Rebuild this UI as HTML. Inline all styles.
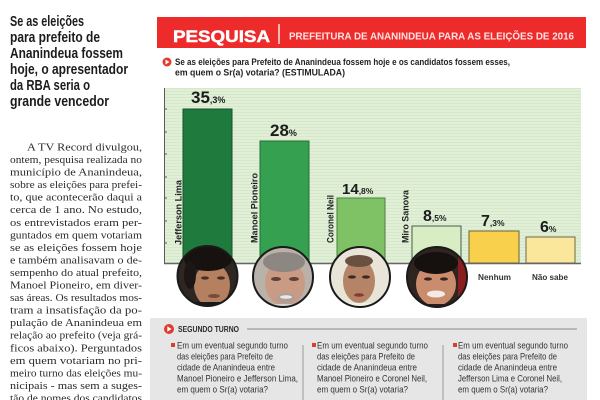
<!DOCTYPE html>
<html><head><meta charset="utf-8"><style>
html,body{margin:0;padding:0;background:#fff;}
svg{display:block;}
</style></head><body>
<svg width="600" height="400" viewBox="0 0 600 400" xmlns="http://www.w3.org/2000/svg">
<defs>
<pattern id="stripes" width="8" height="3" patternUnits="userSpaceOnUse">
<rect width="8" height="3" fill="#e0efd6"/>
<line x1="0" y1="1.5" x2="8" y2="1.5" stroke="#d2e5c8" stroke-width="0.7"/>
</pattern>
<clipPath id="c1"><circle cx="207.5" cy="276" r="30"/></clipPath>
<clipPath id="c2"><circle cx="283" cy="277" r="30"/></clipPath>
<clipPath id="c3"><circle cx="360" cy="277" r="30"/></clipPath>
<clipPath id="c4"><circle cx="437" cy="277" r="30"/></clipPath>
</defs>
<rect width="600" height="400" fill="#fff"/>

<!-- left column headline -->
<g font-family="Liberation Sans, sans-serif" font-weight="bold" font-size="15" fill="#1c1c1c" lengthAdjust="spacingAndGlyphs">
<text x="10" y="26" textLength="74" lengthAdjust="spacingAndGlyphs">Se as eleições</text>
<text x="10" y="42" textLength="90" lengthAdjust="spacingAndGlyphs">para prefeito de</text>
<text x="10" y="58" textLength="113" lengthAdjust="spacingAndGlyphs">Ananindeua fossem</text>
<text x="10" y="74" textLength="118" lengthAdjust="spacingAndGlyphs">hoje, o apresentador</text>
<text x="10" y="90" textLength="80" lengthAdjust="spacingAndGlyphs">da RBA seria o</text>
<text x="10" y="106" textLength="99" lengthAdjust="spacingAndGlyphs">grande vencedor</text>
</g>

<!-- body text -->
<g font-family="Liberation Serif, serif" font-size="11" fill="#2a2a2a">
<text x="27" y="150.5" textLength="115" lengthAdjust="spacingAndGlyphs">A TV Record divulgou,</text>
<text x="10" y="163" textLength="132" lengthAdjust="spacingAndGlyphs">ontem, pesquisa realizada no</text>
<text x="10" y="175.6" textLength="132" lengthAdjust="spacingAndGlyphs">município de Ananindeua,</text>
<text x="10" y="188.1" textLength="132" lengthAdjust="spacingAndGlyphs">sobre as eleições para prefei-</text>
<text x="10" y="200.7" textLength="132" lengthAdjust="spacingAndGlyphs">to, que acontecerão daqui a</text>
<text x="10" y="213.2" textLength="132" lengthAdjust="spacingAndGlyphs">cerca de 1 ano. No estudo,</text>
<text x="10" y="225.8" textLength="132" lengthAdjust="spacingAndGlyphs">os entrevistados eram per-</text>
<text x="10" y="238.3" textLength="132" lengthAdjust="spacingAndGlyphs">guntados em quem votariam</text>
<text x="10" y="250.9" textLength="132" lengthAdjust="spacingAndGlyphs">se as eleições fossem hoje</text>
<text x="10" y="263.4" textLength="132" lengthAdjust="spacingAndGlyphs">e também analisavam o de-</text>
<text x="10" y="276" textLength="132" lengthAdjust="spacingAndGlyphs">sempenho do atual prefeito,</text>
<text x="10" y="288.5" textLength="132" lengthAdjust="spacingAndGlyphs">Manoel Pioneiro, em diver-</text>
<text x="10" y="301.1" textLength="132" lengthAdjust="spacingAndGlyphs">sas áreas. Os resultados mos-</text>
<text x="10" y="313.6" textLength="132" lengthAdjust="spacingAndGlyphs">tram a insatisfação da po-</text>
<text x="10" y="326.2" textLength="132" lengthAdjust="spacingAndGlyphs">pulação de Ananindeua em</text>
<text x="10" y="338.7" textLength="132" lengthAdjust="spacingAndGlyphs">relação ao prefeito (veja grá-</text>
<text x="10" y="351.3" textLength="132" lengthAdjust="spacingAndGlyphs">ficos abaixo). Perguntados</text>
<text x="10" y="363.8" textLength="132" lengthAdjust="spacingAndGlyphs">em quem votariam no pri-</text>
<text x="10" y="376.4" textLength="132" lengthAdjust="spacingAndGlyphs">meiro turno das eleições mu-</text>
<text x="10" y="388.9" textLength="132" lengthAdjust="spacingAndGlyphs">nicipais - mas sem a suges-</text>
<text x="10" y="401.5" textLength="132" lengthAdjust="spacingAndGlyphs">tão de nomes dos candidatos</text>
</g>

<!-- header -->
<rect x="157" y="17" width="429" height="31" fill="#ee2b2b"/>
<text x="173" y="42" font-family="Liberation Sans, sans-serif" font-weight="bold" font-size="17" fill="#fff" textLength="97" lengthAdjust="spacingAndGlyphs" stroke="#fff" stroke-width="0.5">PESQUISA</text>
<line x1="279" y1="24" x2="279" y2="44" stroke="#fff" stroke-width="1.3"/>
<text x="289" y="39.5" font-family="Liberation Sans, sans-serif" font-weight="bold" font-size="10.5" fill="#fde3e3" textLength="285" lengthAdjust="spacingAndGlyphs">PREFEITURA DE ANANINDEUA PARA AS ELEIÇÕES DE 2016</text>

<!-- question -->
<circle cx="167" cy="62" r="4.5" fill="#e33a2e"/>
<path d="M165.5 59.5 L169.5 62 L165.5 64.5 Z" fill="#fff"/>
<g font-family="Liberation Sans, sans-serif" font-weight="bold" font-size="9" fill="#222">
<text x="175" y="65" textLength="335" lengthAdjust="spacingAndGlyphs">Se as eleições para Prefeito de Ananindeua fossem hoje e os candidatos fossem esses,</text>
<text x="175" y="75.5" textLength="170" lengthAdjust="spacingAndGlyphs">em quem o Sr(a) votaria? (ESTIMULADA)</text>
</g>

<!-- chart background -->
<rect x="164" y="88" width="417" height="175" fill="url(#stripes)"/>
<line x1="164.5" y1="88" x2="164.5" y2="264" stroke="#5a5a5a" stroke-width="1"/>
<g stroke="#5a5a5a" stroke-width="1">
<line x1="164" y1="109" x2="167" y2="109"/>
<line x1="164" y1="132" x2="167" y2="132"/>
<line x1="164" y1="154" x2="167" y2="154"/>
<line x1="164" y1="177" x2="167" y2="177"/>
<line x1="164" y1="198" x2="167" y2="198"/>
<line x1="164" y1="221" x2="167" y2="221"/>
<line x1="164" y1="243" x2="167" y2="243"/>
</g>

<!-- bars -->
<rect x="183" y="109" width="49" height="154" fill="#1e7b3d" stroke="#15502a" stroke-width="1"/>
<rect x="260" y="141" width="49" height="122" fill="#34a050" stroke="#236d37" stroke-width="1"/>
<rect x="337" y="198" width="48" height="65" fill="#7fc266" stroke="#4e7f40" stroke-width="1"/>
<rect x="412" y="226" width="49" height="37" fill="#d8edc4" stroke="#4a5a44" stroke-width="1"/>
<rect x="469" y="231" width="50" height="32" fill="#f8d04b" stroke="#6e6030" stroke-width="1"/>
<rect x="526" y="237" width="49" height="26" fill="#fbe79c" stroke="#6e6848" stroke-width="1"/>
<line x1="164" y1="263.5" x2="581" y2="263.5" stroke="#666" stroke-width="1.5"/>

<!-- value labels -->
<g font-family="Liberation Sans, sans-serif" font-weight="bold" fill="#1c1c1c">
<text x="191" y="103" font-size="17">35<tspan font-size="9">,3%</tspan></text>
<text x="270" y="136" font-size="17">28<tspan font-size="9">%</tspan></text>
<text x="342" y="194" font-size="15">14<tspan font-size="8.5">,8%</tspan></text>
<text x="423" y="221" font-size="16">8<tspan font-size="8.5">,5%</tspan></text>
<text x="481" y="226" font-size="16">7<tspan font-size="8.5">,3%</tspan></text>
<text x="540" y="232" font-size="16">6<tspan font-size="8.5">%</tspan></text>
</g>

<!-- rotated names -->
<g font-family="Liberation Sans, sans-serif" font-weight="bold" font-size="9" fill="#222">
<text transform="translate(181.5,245) rotate(-90)" textLength="65" lengthAdjust="spacingAndGlyphs">Jefferson Lima</text>
<text transform="translate(257.5,243) rotate(-90)" textLength="70" lengthAdjust="spacingAndGlyphs">Manoel Pioneiro</text>
<text transform="translate(333.5,243) rotate(-90)" textLength="48" lengthAdjust="spacingAndGlyphs">Coronel Neil</text>
<text transform="translate(408.5,243) rotate(-90)" textLength="53" lengthAdjust="spacingAndGlyphs">Miro Sanova</text>
</g>
<g font-family="Liberation Sans, sans-serif" font-weight="bold" font-size="8.5" fill="#333">
<text x="478" y="280" textLength="33" lengthAdjust="spacingAndGlyphs">Nenhum</text>
<text x="532" y="280" textLength="36" lengthAdjust="spacingAndGlyphs">Não sabe</text>
</g>

<!-- photo 1: Jefferson -->
<g clip-path="url(#c1)">
<rect x="175" y="244" width="66" height="66" fill="#2e2622"/>
<ellipse cx="212" cy="285" rx="18" ry="22" fill="#b4805f"/>
<ellipse cx="208" cy="259" rx="24" ry="12" fill="#17120f"/>
<ellipse cx="190" cy="275" rx="6" ry="14" fill="#1c1614"/>
<ellipse cx="205" cy="278" rx="4" ry="1.6" fill="#4a2e22"/>
<ellipse cx="221" cy="278" rx="4" ry="1.6" fill="#4a2e22"/>
<ellipse cx="214" cy="296" rx="6" ry="2" fill="#7a4a3a"/>
<rect x="175" y="302" width="66" height="10" fill="#1a1a1e"/>
</g>
<circle cx="207.5" cy="276" r="30" fill="none" stroke="#1a1a1a" stroke-width="2"/>

<!-- photo 2: Manoel -->
<g clip-path="url(#c2)">
<rect x="250" y="245" width="66" height="66" fill="#b9b2aa"/>
<ellipse cx="285" cy="283" rx="20" ry="23" fill="#c99a84"/>
<ellipse cx="284" cy="262" rx="21" ry="10" fill="#8d8782"/>
<ellipse cx="276" cy="279" rx="5" ry="2" fill="#5e4038"/>
<ellipse cx="294" cy="279" rx="5" ry="2" fill="#5e4038"/>
<ellipse cx="286" cy="298" rx="9" ry="5" fill="#a8a09a"/>
<ellipse cx="286" cy="297" rx="6" ry="1.8" fill="#f0e8e0"/>
<rect x="250" y="304" width="66" height="8" fill="#d8d2cc"/>
</g>
<circle cx="283" cy="277" r="30" fill="none" stroke="#1a1a1a" stroke-width="2"/>

<!-- photo 3: Coronel -->
<g clip-path="url(#c3)">
<rect x="328" y="245" width="66" height="66" fill="#e9e4d8"/>
<ellipse cx="359" cy="281" rx="16" ry="22" fill="#b58466"/>
<ellipse cx="359" cy="261" rx="14" ry="6" fill="#6a5040"/>
<ellipse cx="352" cy="277" rx="4" ry="1.6" fill="#3a2a22"/>
<ellipse cx="366" cy="277" rx="4" ry="1.6" fill="#3a2a22"/>
<ellipse cx="359" cy="295" rx="5" ry="1.8" fill="#8a3a32"/>
<rect x="328" y="303" width="66" height="10" fill="#f2eee4"/>
</g>
<circle cx="360" cy="277" r="30" fill="none" stroke="#1a1a1a" stroke-width="2"/>

<!-- photo 4: Miro -->
<g clip-path="url(#c4)">
<rect x="405" y="245" width="66" height="66" fill="#2e2420"/>
<rect x="458" y="245" width="12" height="66" fill="#8a1e1e"/>
<ellipse cx="436" cy="284" rx="20" ry="22" fill="#c98c6c"/>
<ellipse cx="436" cy="263" rx="22" ry="11" fill="#16110e"/>
<ellipse cx="428" cy="279" rx="4" ry="1.6" fill="#3a2520"/>
<ellipse cx="444" cy="279" rx="4" ry="1.6" fill="#3a2520"/>
<ellipse cx="436" cy="294" rx="9" ry="3.5" fill="#f4ece4"/>
<rect x="405" y="304" width="66" height="8" fill="#2a1e1c"/>
</g>
<circle cx="437" cy="277" r="30" fill="none" stroke="#1a1a1a" stroke-width="2"/>

<!-- segundo turno box -->
<rect x="150" y="318" width="437" height="82" fill="#e6e6e6"/>
<circle cx="169" cy="329" r="5" fill="#e33a2e"/>
<path d="M167.3 326.3 L171.6 329 L167.3 331.7 Z" fill="#fff"/>
<text x="178" y="332" font-family="Liberation Sans, sans-serif" font-weight="bold" font-size="8" fill="#2a2a2a" textLength="61" lengthAdjust="spacingAndGlyphs">SEGUNDO TURNO</text>
<line x1="247" y1="329" x2="577" y2="329" stroke="#8a8a8a" stroke-width="1"/>
<line x1="303" y1="345" x2="303" y2="400" stroke="#9a9a9a" stroke-width="1"/>
<line x1="443" y1="345" x2="443" y2="400" stroke="#9a9a9a" stroke-width="1"/>

<rect x="171" y="343" width="4" height="4" fill="#e33a2e"/>
<rect x="312" y="343" width="4" height="4" fill="#e33a2e"/>
<rect x="453" y="343" width="4" height="4" fill="#e33a2e"/>

<g font-family="Liberation Sans, sans-serif" font-size="9.5" fill="#333">
<text x="177" y="348.5" textLength="111" lengthAdjust="spacingAndGlyphs">Em um eventual segundo turno</text>
<text x="177" y="359.5" textLength="96" lengthAdjust="spacingAndGlyphs">das eleições para Prefeito de</text>
<text x="177" y="370.5" textLength="98" lengthAdjust="spacingAndGlyphs">cidade de Ananindeua entre</text>
<text x="177" y="381.5" textLength="121" lengthAdjust="spacingAndGlyphs">Manoel Pioneiro e Jefferson Lima,</text>
<text x="177" y="392.5" textLength="91" lengthAdjust="spacingAndGlyphs">em quem o Sr(a) votaria?</text>

<text x="317" y="348.5" textLength="111" lengthAdjust="spacingAndGlyphs">Em um eventual segundo turno</text>
<text x="317" y="359.5" textLength="98" lengthAdjust="spacingAndGlyphs">das eleições para Prefeito de</text>
<text x="317" y="370.5" textLength="100" lengthAdjust="spacingAndGlyphs">cidade de Ananindeua entre</text>
<text x="317" y="381.5" textLength="110" lengthAdjust="spacingAndGlyphs">Manoel Pioneiro e Coronel Neil,</text>
<text x="317" y="392.5" textLength="91" lengthAdjust="spacingAndGlyphs">em quem o Sr(a) votaria?</text>

<text x="458" y="348.5" textLength="110" lengthAdjust="spacingAndGlyphs">Em um eventual segundo turno</text>
<text x="458" y="359.5" textLength="99" lengthAdjust="spacingAndGlyphs">das eleições para Prefeito de</text>
<text x="458" y="370.5" textLength="99" lengthAdjust="spacingAndGlyphs">cidade de Ananindeua entre</text>
<text x="458" y="381.5" textLength="104" lengthAdjust="spacingAndGlyphs">Jefferson Lima e Coronel Neil,</text>
<text x="458" y="392.5" textLength="90" lengthAdjust="spacingAndGlyphs">em quem o Sr(a) votaria?</text>
</g>
</svg>
</body></html>
